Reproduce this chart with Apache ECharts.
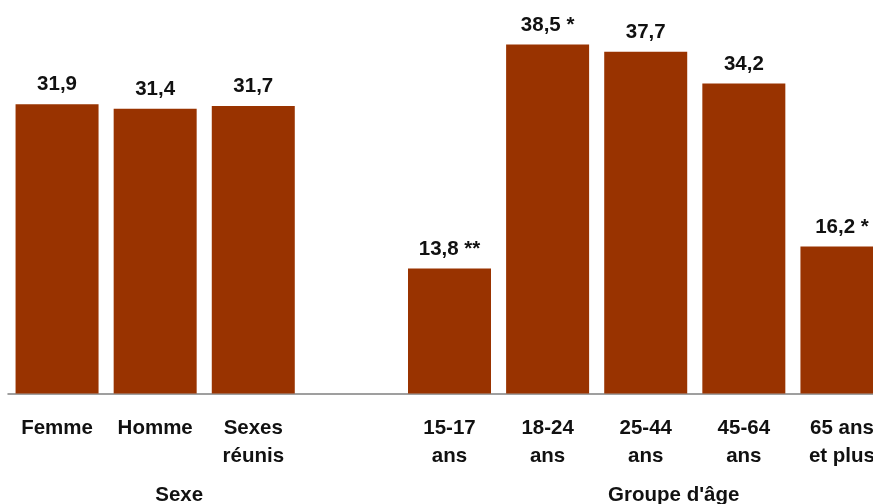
<!DOCTYPE html>
<html>
<head>
<meta charset="utf-8">
<script src="https://cdn.jsdelivr.net/npm/echarts@6/dist/echarts.min.js"></script>
<style>
html,body{margin:0;padding:0;background:#fff;}
#chart{width:873px;height:504px;}
</style>
</head>
<body>
<div id="chart"></div>
<script>
// Data
var categories = ['Femme', 'Homme', 'Sexes\nréunis', '', '15-17\nans', '18-24\nans', '25-44\nans', '45-64\nans', '65 ans\net plus'];
var values = [31.9, 31.4, 31.7, null, 13.8, 38.5, 37.7, 34.2, 16.2];
var flags = ['', '', '', '', ' **', ' *', '', '', ' *'];
var groupLabels = ['Sexe', "Groupe d'âge"];

var FONT = '"Liberation Sans", Arial, sans-serif';
var FS = 20.5;
var chart = echarts.init(document.getElementById('chart'), null, {renderer: 'canvas'});

chart.setOption({
  animation: false,
  backgroundColor: '#ffffff',
  grid: {left: 8, right: -18, top: 0, bottom: 110.5, containLabel: false, outerBoundsMode: 'none'},
  xAxis: {
    type: 'category',
    data: categories,
    axisLine: {show: true, lineStyle: {color: '#808080', width: 1.5}},
    axisTick: {show: false},
    axisLabel: {
      interval: 0,
      margin: 21,
      fontFamily: FONT,
      fontSize: FS,
      fontWeight: 'bold',
      color: '#111',
      lineHeight: 28
    }
  },
  yAxis: {
    type: 'value',
    min: 0,
    max: 43.4,
    show: false,
    splitLine: {show: false}
  },
  series: [{
    type: 'bar',
    data: values,
    barWidth: 83,
    itemStyle: {color: '#993300'},
    label: {
      show: true,
      position: 'top',
      distance: 9,
      fontFamily: FONT,
      fontSize: FS,
      fontWeight: 'bold',
      color: '#111',
      formatter: function (p) {
        if (p.value == null) return '';
        return String(p.value.toFixed(1)).replace('.', ',') + flags[p.dataIndex];
      }
    }
  }]
});

var xSexe = chart.convertToPixel({xAxisIndex: 0}, 1) + 24;
var xAge = chart.convertToPixel({xAxisIndex: 0}, 6) + 28;
chart.setOption({
  graphic: [
    {type: 'text', x: xSexe, y: 495, style: {text: groupLabels[0], font: 'bold ' + FS + 'px ' + FONT, fill: '#111', align: 'center', verticalAlign: 'middle'}},
    {type: 'text', x: xAge, y: 495, style: {text: groupLabels[1], font: 'bold ' + FS + 'px ' + FONT, fill: '#111', align: 'center', verticalAlign: 'middle'}}
  ]
});
</script>
</body>
</html>
